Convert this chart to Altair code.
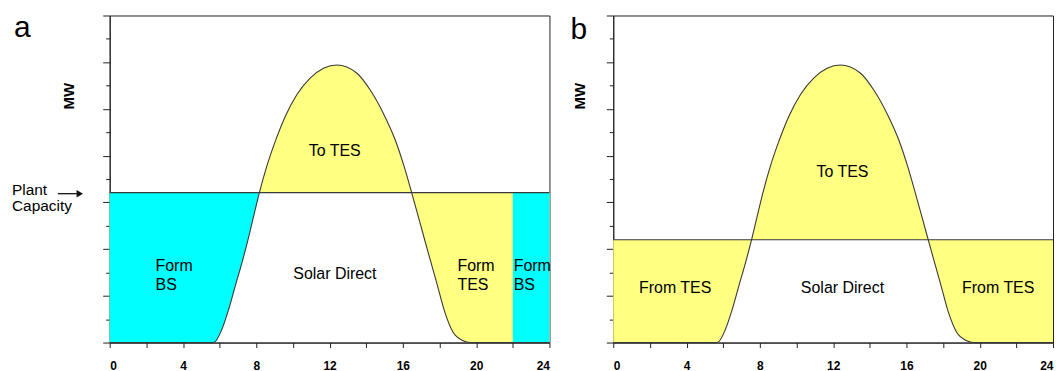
import altair as alt
import pandas as pd

# ---- data ----
hours = [0, 5.68, 6.13, 6.50, 6.86, 7.22, 7.58, 7.86, 8.17, 8.58, 9.04, 9.58,
         10.22, 10.94, 11.67, 12.4, 13.48, 14.21, 14.93, 15.57, 16.06, 16.48,
         16.93, 17.38, 17.84, 18.29, 18.74, 19.29, 19.65, 24]
solar_mw = [0, 0, 0.29, 0.72, 1.22, 1.71, 2.25, 2.71, 3.21, 3.78, 4.31, 4.84,
            5.31, 5.66, 5.87, 5.94, 5.77, 5.41, 4.91, 4.35, 3.78, 3.21,
            2.57, 1.93, 1.29, 0.65, 0.22, 0.04, 0, 0]
cap_a = 3.21          # plant capacity, panel a
cap_b = 2.20          # plant capacity, panel b
cross_a = 8.17        # hour where solar reaches capacity (panel a)
bs_from, bs_to = 22, 24  # backup-system block at the end of the day (panel a)

x_ticks = [0, 2, 4, 6, 8, 10, 12, 14, 16, 18, 20, 22, 24]
y_ticks = [0, 0.5, 1, 1.5, 2, 2.5, 3, 3.5, 4, 4.5, 5, 5.5, 6, 6.5, 7]

labels_a = ["Form\nBS", "To TES", "Solar Direct", "Form\nTES", "Form\nBS"]
labels_a_x = [2.50, 12.28, 12.29, 18.98, 22.05]
labels_a_y = [1.54, 4.11, 1.46, 1.54, 1.54]
labels_a_align = ["left", "center", "center", "left", "left"]
labels_a_base = ["alphabetic", "middle", "middle", "alphabetic", "alphabetic"]

labels_b = ["To TES", "Solar Direct", "From TES", "From TES"]
labels_b_x = [12.51, 12.51, 3.38, 21.01]
labels_b_y = [3.66, 1.17, 1.17, 1.17]

YELLOW = "#FFFF82"
CYAN = "#00FFFF"
LINE = "#3a3a3a"
FONT = "Liberation Sans"

W, H = 441, 328

x_axis = alt.Axis(values=x_ticks, labelExpr="datum.value % 4 === 0 ? datum.label : ''",
                  tickSize=5, labelFont=FONT, labelFontWeight="bold", labelFontSize=12,
                  labelPadding=13, labelColor="#000", tickColor="#222", domainColor="#222",
                  grid=False, title=None, labelAngle=0, labelOverlap=False)
y_axis = alt.Axis(values=y_ticks, labels=False,
                  tickSize={"condition": {"test": "datum.value % 1 === 0", "value": 7}, "value": 4},
                  tickColor="#222", domainColor="#222", grid=False, title=None)

xs = alt.Scale(domain=[0, 24], nice=False, zero=False)
ys = alt.Scale(domain=[0, 7], nice=False)


def X(f):
    return alt.X(f"{f}:Q", scale=xs, axis=x_axis, title=None)


def Y(f):
    return alt.Y(f"{f}:Q", scale=ys, axis=y_axis, title=None)


df = pd.DataFrame({"h": hours, "mw": solar_mw})


def panel(cap, labels, lx, ly, aligns, bases, extra_left, letter, mw_x, letter_y):
    d = df.assign(cap=cap)
    layers = [
        alt.Chart(d).mark_area(color=YELLOW, interpolate="monotone").encode(
            x=X("h"), y=Y("mw"), y2="cap"),
    ]
    layers += extra_left(d)
    layers += [
        alt.Chart(d).mark_line(color=LINE, strokeWidth=1.1, interpolate="monotone").encode(
            x=X("h"), y=Y("mw")),
        alt.Chart(pd.DataFrame({"cap": [cap]})).mark_rule(color=LINE, strokeWidth=1.2).encode(
            y=Y("cap")),
    ]
    tdf = pd.DataFrame({"t": labels, "h": lx, "mw": ly, "al": aligns, "bl": bases})
    for al in sorted(set(aligns)):
        for bl in sorted(set(bases)):
            sub = tdf[(tdf.al == al) & (tdf.bl == bl)]
            if len(sub):
                layers.append(
                    alt.Chart(sub).mark_text(font=FONT, fontSize=16, color="#000",
                                             align=al, baseline=bl, lineBreak="\n",
                                             lineHeight=19).encode(
                        x=X("h"), y=Y("mw"), text="t:N"))
    layers += [
        alt.Chart(pd.DataFrame({"t": [letter]})).mark_text(
            font=FONT, fontSize=30, align="left", baseline="top", color="#000").encode(
            x=alt.value(-96 if letter == "a" else -43), y=alt.value(letter_y), text="t:N"),
        alt.Chart(pd.DataFrame({"t": ["MW"]})).mark_text(
            font=FONT, fontSize=15, fontWeight="bold", angle=270, align="center",
            baseline="middle", color="#000").encode(
            x=alt.value(mw_x), y=alt.value(81), text="t:N"),
    ]
    return alt.layer(*layers).properties(width=W, height=H)


def extra_a(d):
    bs = d[d.h <= cross_a]
    return [
        alt.Chart(bs).mark_area(color=CYAN, interpolate="monotone").encode(
            x=X("h"), y=Y("mw"), y2="cap"),
        alt.Chart(pd.DataFrame({"h": [bs_from], "h2": [bs_to], "lo": [0], "cap": [cap_a]}))
        .mark_rect(color=CYAN).encode(x=X("h"), x2="h2", y=Y("lo"), y2="cap"),
    ]


def extra_b(d):
    return []


pa = panel(cap_a, labels_a, labels_a_x, labels_a_y, labels_a_align, labels_a_base,
           extra_a, "a", -40.5, -2)
pb = panel(cap_b, labels_b, labels_b_x, labels_b_y, ["center"] * 4, ["middle"] * 4,
           extra_b, "b", -33, -0.5)

plant = alt.Chart(pd.DataFrame({"t": ["Plant\nCapacity"]})).mark_text(
    font=FONT, fontSize=15.5, align="left", baseline="alphabetic", lineBreak="\n",
    lineHeight=16, color="#000").encode(x=alt.value(-98), y=alt.value(180), text="t:N")
arrow_line = alt.Chart(pd.DataFrame({"a": [0]})).mark_rule(color="#111", strokeWidth=1.3).encode(
    x=alt.value(-52), x2=alt.value(-33), y=alt.value(178.7))
arrow_head = alt.Chart(pd.DataFrame({"a": [0]})).mark_point(
    shape="triangle-right", filled=True, color="#111", size=55, opacity=1).encode(
    x=alt.value(-30), y=alt.value(178.7))

pa = alt.layer(pa, plant, arrow_line, arrow_head)

chart = alt.hconcat(pa, pb, spacing=64, bounds="flush").configure(
    padding={"left": 11, "top": 12, "right": 0, "bottom": 0}
).configure_view(stroke="#222", strokeWidth=1)

chart.save("out.html", embed_options={"renderer": "svg", "actions": False})
